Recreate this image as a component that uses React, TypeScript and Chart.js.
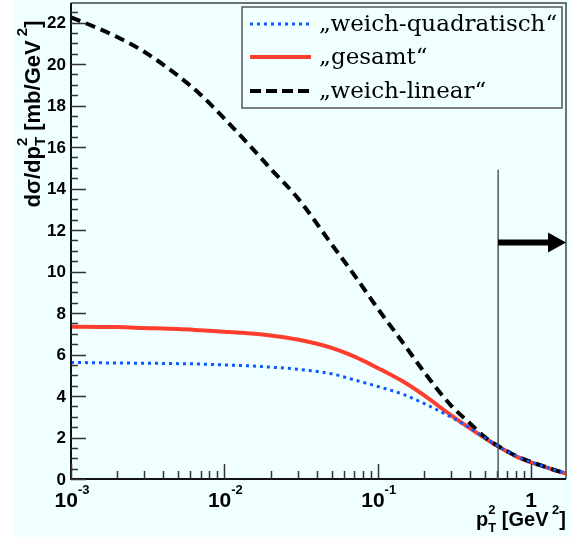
import React, { useEffect, useRef } from "react";
import { Chart, registerables } from "chart.js";

Chart.register(...registerables);

// ---- data ----
const pt2 = [0.001, 0.0015, 0.002, 0.003, 0.005, 0.007, 0.01, 0.015, 0.02, 0.03, 0.05, 0.07, 0.1, 0.15, 0.2, 0.3, 0.4, 0.5, 0.6, 0.7, 0.8, 1.0, 1.2, 1.5, 1.7];
const weichQuadratisch = [5.62, 5.6, 5.59, 5.58, 5.56, 5.54, 5.5, 5.45, 5.39, 5.29, 5.07, 4.78, 4.46, 4.05, 3.64, 2.99, 2.45, 1.98, 1.61, 1.33, 1.1, 0.81, 0.62, 0.38, 0.28];
const gesamt = [7.34, 7.33, 7.32, 7.28, 7.23, 7.17, 7.1, 7.01, 6.92, 6.72, 6.32, 5.91, 5.35, 4.65, 4.04, 3.08, 2.44, 1.97, 1.6, 1.32, 1.09, 0.8, 0.61, 0.37, 0.27];
const weichLinear = [22.25, 21.72, 21.3, 20.59, 19.43, 18.52, 17.37, 15.98, 14.96, 13.55, 11.32, 9.85, 8.22, 6.45, 5.17, 3.55, 2.68, 2.02, 1.62, 1.34, 1.11, 0.82, 0.62, 0.38, 0.28];

const seriesNames = ["„weich-quadratisch“", "„gesamt“", "„weich-linear“"];

const xMin = 0.001;
const xMax = 1.69;
const yMin = 0;
const yMax = 22.94;

const yTickValues = [0, 2, 4, 6, 8, 10, 12, 14, 16, 18, 20, 22];
const yTickLabels = ["0", "2", "4", "6", "8", "10", "12", "14", "16", "18", "20", "22"];
const yMinorStep = 0.5;
const xDecades = [0.001, 0.01, 0.1, 1];
const xLabelBase = ["10", "10", "10", "1"];
const xLabelExp = ["-3", "-2", "-1", ""];

const cutX = 0.61;
const cutTop = 14.9;
const arrowY = 11.4;

const SANS = '"Liberation Sans", Arial, Helvetica, sans-serif';
const SERIF = '"DejaVu Serif", "Liberation Serif", serif';

const BLUE = "rgb(10,90,255)";
const RED = "rgb(255,62,45)";
const BLACK = "#000000";

type Seg = { t: string; size: number; dy?: number; stack?: boolean };

function layoutSegs(ctx: CanvasRenderingContext2D, segs: Seg[]) {
  let x = 0;
  let prevStart = 0;
  let prevW = 0;
  const pos: number[] = [];
  for (const s of segs) {
    ctx.font = `bold ${s.size}px ${SANS}`;
    const w = ctx.measureText(s.t).width;
    if (s.stack) {
      pos.push(prevStart);
      const m = Math.max(prevW, w);
      x = prevStart + m;
      prevW = m;
    } else {
      pos.push(x);
      prevStart = x;
      prevW = w;
      x += w;
    }
  }
  return { pos, width: x };
}

function drawSegs(ctx: CanvasRenderingContext2D, segs: Seg[], x: number, y: number, align: "left" | "right" | "center") {
  const { pos, width } = layoutSegs(ctx, segs);
  const x0 = align === "left" ? x : align === "right" ? x - width : x - width / 2;
  ctx.textAlign = "left";
  ctx.textBaseline = "alphabetic";
  segs.forEach((s, i) => {
    ctx.font = `bold ${s.size}px ${SANS}`;
    ctx.fillText(s.t, x0 + pos[i], y + (s.dy || 0));
  });
}

const decorations = {
  id: "rootDecorations",
  beforeDraw(chart: any) {
    const ctx: CanvasRenderingContext2D = chart.ctx;
    ctx.save();
    ctx.fillStyle = "#ffffff";
    ctx.fillRect(0, 0, chart.width, chart.height);
    ctx.fillStyle = "rgb(240,255,255)";
    ctx.fillRect(14, 0, chart.width - 14, 537);
    ctx.restore();
  },
  afterDatasetsDraw(chart: any) {
    const ctx: CanvasRenderingContext2D = chart.ctx;
    const xs = chart.scales.x;
    const ys = chart.scales.y;
    const { left, right, top, bottom } = chart.chartArea;
    ctx.save();

    // frame
    ctx.strokeStyle = "#444";
    ctx.lineWidth = 1.5;
    ctx.beginPath();
    ctx.moveTo(left, top);
    ctx.lineTo(right, top);
    ctx.lineTo(right, bottom);
    ctx.stroke();
    ctx.strokeStyle = "#111";
    ctx.lineWidth = 2;
    ctx.beginPath();
    ctx.moveTo(left, top);
    ctx.lineTo(left, bottom);
    ctx.lineTo(right, bottom);
    ctx.stroke();

    // y ticks
    ctx.strokeStyle = "#333";
    ctx.lineWidth = 1.5;
    for (let v = yMin; v <= yMax + 1e-9; v += yMinorStep) {
      const py = Math.round(ys.getPixelForValue(v)) + 0.5;
      const major = Math.abs(v / 2 - Math.round(v / 2)) < 1e-6;
      ctx.beginPath();
      ctx.moveTo(left, py);
      ctx.lineTo(left + (major ? 15 : 7), py);
      ctx.stroke();
    }
    ctx.fillStyle = "#000";
    ctx.font = `bold 17px ${SANS}`;
    ctx.textAlign = "right";
    ctx.textBaseline = "middle";
    yTickValues.forEach((v, i) => {
      ctx.fillText(yTickLabels[i], 66, ys.getPixelForValue(v) + 1);
    });

    // x ticks (log)
    xDecades.forEach((d) => {
      for (let m = 1; m <= 9; m++) {
        const v = d * m;
        if (v < xMin - 1e-12 || v > xMax) continue;
        const px = Math.round(xs.getPixelForValue(v)) + 0.5;
        ctx.beginPath();
        ctx.moveTo(px, bottom);
        ctx.lineTo(px, bottom - (m === 1 ? 15 : 8));
        ctx.stroke();
      }
    });
    ctx.fillStyle = "#000";
    xDecades.forEach((d, i) => {
      const px = xs.getPixelForValue(d);
      const segs: Seg[] = [{ t: xLabelBase[i], size: 21 }];
      if (xLabelExp[i]) segs.push({ t: xLabelExp[i], size: 13, dy: -13 });
      drawSegs(ctx, segs, px + (xLabelExp[i] ? 1 : 0), 507, "center");
    });

    // x title
    drawSegs(
      ctx,
      [
        { t: "p", size: 20 },
        { t: "T", size: 13, dy: 6 },
        { t: "2", size: 13, dy: -12, stack: true },
        { t: " [GeV", size: 20 },
        { t: " 2", size: 13, dy: -12 },
        { t: "]", size: 20 },
      ],
      566,
      526,
      "right"
    );

    // y title (rotated)
    ctx.save();
    ctx.translate(40, 114);
    ctx.rotate(-Math.PI / 2);
    drawSegs(
      ctx,
      [
        { t: "dσ/dp", size: 22 },
        { t: "T", size: 15, dy: 5 },
        { t: "2", size: 15, dy: -13, stack: true },
        { t: " [mb/GeV", size: 22 },
        { t: " 2", size: 15, dy: -13 },
        { t: "]", size: 22 },
      ],
      0,
      0,
      "center"
    );
    ctx.restore();

    // cut line
    const cx = xs.getPixelForValue(cutX);
    ctx.strokeStyle = "#555";
    ctx.lineWidth = 1.5;
    ctx.beginPath();
    ctx.moveTo(cx, ys.getPixelForValue(cutTop));
    ctx.lineTo(cx, bottom);
    ctx.stroke();

    // arrow
    const ay = ys.getPixelForValue(arrowY);
    const ax1 = xs.getPixelForValue(xMax);
    ctx.strokeStyle = "#000";
    ctx.lineWidth = 6;
    ctx.beginPath();
    ctx.moveTo(cx, ay);
    ctx.lineTo(ax1 - 16, ay);
    ctx.stroke();
    ctx.fillStyle = "#000";
    ctx.beginPath();
    ctx.moveTo(ax1, ay);
    ctx.lineTo(ax1 - 18, ay - 10);
    ctx.lineTo(ax1 - 18, ay + 10);
    ctx.closePath();
    ctx.fill();

    // legend
    ctx.fillStyle = "rgb(240,255,255)";
    ctx.fillRect(242, 7, 320, 101);
    ctx.strokeStyle = "#555";
    ctx.lineWidth = 1.5;
    ctx.strokeRect(242, 7, 320, 101);
    const rows = [24, 57, 91];
    const styles = [
      { c: BLUE, w: 3, dash: [3, 4] },
      { c: RED, w: 4, dash: [] as number[] },
      { c: BLACK, w: 4, dash: [11, 5] },
    ];
    rows.forEach((ry, i) => {
      ctx.strokeStyle = styles[i].c;
      ctx.lineWidth = styles[i].w;
      ctx.setLineDash(styles[i].dash);
      ctx.lineCap = "butt";
      ctx.beginPath();
      ctx.moveTo(250, ry);
      ctx.lineTo(311, ry);
      ctx.stroke();
      ctx.setLineDash([]);
      ctx.fillStyle = "#000";
      ctx.font = `23px ${SERIF}`;
      ctx.textAlign = "left";
      ctx.textBaseline = "alphabetic";
      ctx.fillText(seriesNames[i], 319, ry + 7);
    });

    ctx.restore();
  },
};

export default function App() {
  const ref = useRef<HTMLCanvasElement | null>(null);
  useEffect(() => {
    const canvas = ref.current;
    if (!canvas) return;
    const mk = (ys: number[]) => pt2.map((x, i) => ({ x, y: ys[i] }));
    const chart = new Chart(canvas, {
      type: "line",
      data: {
        datasets: [
          { label: seriesNames[0], data: mk(weichQuadratisch), borderColor: BLUE, borderWidth: 3, borderDash: [3, 4], pointRadius: 0, cubicInterpolationMode: "monotone", order: 0, fill: false },
          { label: seriesNames[1], data: mk(gesamt), borderColor: RED, borderWidth: 4, pointRadius: 0, cubicInterpolationMode: "monotone", order: 2, fill: false },
          { label: seriesNames[2], data: mk(weichLinear), borderColor: BLACK, borderWidth: 4, borderDash: [10, 6], pointRadius: 0, cubicInterpolationMode: "monotone", order: 1, fill: false },
        ],
      },
      options: {
        animation: false,
        responsive: false,
        devicePixelRatio: 1,
        layout: { padding: { left: 71, top: 3, right: 6, bottom: 60 } },
        scales: {
          x: { type: "logarithmic", min: xMin, max: xMax, display: false },
          y: { type: "linear", min: yMin, max: yMax, display: false },
        },
        plugins: { legend: { display: false }, tooltip: { enabled: false } },
      },
      plugins: [decorations],
    } as any);
    return () => chart.destroy();
  }, []);
  return (
    <div style={{ position: "fixed", left: 0, top: 0, width: 572, height: 539 }}>
      <canvas ref={ref} width={572} height={539} style={{ display: "block", width: 572, height: 539 }} />
    </div>
  );
}
